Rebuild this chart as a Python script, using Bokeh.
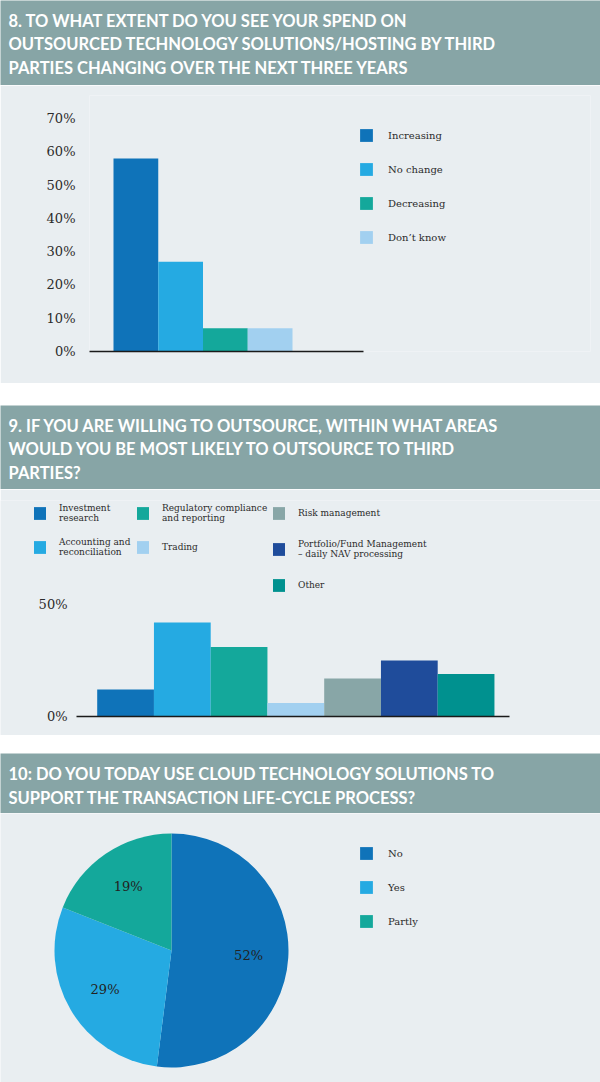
import math
from bokeh.plotting import figure
from bokeh.models import (ColumnDataSource, Label, Legend, LegendItem,
                          FixedTicker, Range1d, Spacer)
from bokeh.layouts import column
from bokeh.embed import file_html
from bokeh.resources import INLINE

# ---------------- data ----------------
q8_title = ["8. TO WHAT EXTENT DO YOU SEE YOUR SPEND ON",
            "OUTSOURCED TECHNOLOGY SOLUTIONS/HOSTING BY THIRD",
            "PARTIES CHANGING OVER THE NEXT THREE YEARS"]
q8_categories = ["Increasing", "No change", "Decreasing", "Don\u2019t know"]
q8_values = [58, 27, 7, 7]
q8_colors = ["#0f73b9", "#25aae2", "#14a89b", "#a2d0f0"]
q8_ticks = [0, 10, 20, 30, 40, 50, 60, 70]
q8_tick_labels = ["0%", "10%", "20%", "30%", "40%", "50%", "60%", "70%"]

q9_title = ["9. IF YOU ARE WILLING TO OUTSOURCE, WITHIN WHAT AREAS",
            "WOULD YOU BE MOST LIKELY TO OUTSOURCE TO THIRD",
            "PARTIES?"]
q9_categories = ["Investment\nresearch",
                 "Accounting and\nreconciliation",
                 "Regulatory compliance\nand reporting",
                 "Trading",
                 "Risk management",
                 "Portfolio/Fund Management\n\u2013 daily NAV processing",
                 "Other"]
q9_values = [12, 42, 31, 6, 17, 25, 19]
q9_colors = ["#0f73b9", "#25aae2", "#14a89b", "#a2d0f0", "#88a6a7", "#1f4c9b", "#00918f"]
q9_ticks = [0, 50]
q9_tick_labels = ["0%", "50%"]

q10_title = ["10: DO YOU TODAY USE CLOUD TECHNOLOGY SOLUTIONS TO",
             "SUPPORT THE TRANSACTION LIFE-CYCLE PROCESS?"]
q10_categories = ["No", "Yes", "Partly"]
q10_values = [52, 29, 19]
q10_colors = ["#0f73b9", "#25aae2", "#14a89b"]

# ---------------- style ----------------
W = 600
HEADER_BG = "#87a5a6"
PANEL_BG = "#e9eef1"
TEXT = "#2b2b2b"
AXIS = "#1a1a1a"
SERIF = "DejaVu Serif"
HEAD_FONT = "Lato"
HEAD_SIZE = 16.5
BASE_FIX = 6.0      # renderer places the alphabetic baseline this much lower


def header(lines, h, first_base):
    p = figure(width=W, height=h, x_range=Range1d(0, W), y_range=Range1d(0, h),
               min_border=0, toolbar_location=None, output_backend="svg",
               x_axis_type=None, y_axis_type=None)
    p.frame_align = False
    p.background_fill_color = HEADER_BG
    p.border_fill_color = HEADER_BG
    p.outline_line_color = None
    p.grid.visible = False
    for i, line in enumerate(lines):
        p.add_layout(Label(x=8, y=h - (first_base - BASE_FIX + 23.6 * i), text=line,
                           text_color="white", text_font=HEAD_FONT,
                           text_font_style="bold", text_font_size=f"{HEAD_SIZE}px",
                           text_baseline="alphabetic"))
    return p


def style_panel(p):
    p.frame_align = False
    p.background_fill_color = PANEL_BG
    p.border_fill_color = PANEL_BG
    p.outline_line_color = None
    p.grid.visible = False


def legend_style(lg, gw, gh, spacing, lh, standoff, size="10px"):
    lg.glyph_width = gw
    lg.glyph_height = gh
    lg.spacing = spacing
    lg.label_height = lh
    lg.label_standoff = standoff
    lg.padding = 0
    lg.margin = 0
    lg.border_line_color = None
    lg.background_fill_alpha = 0
    lg.label_text_font = SERIF
    lg.label_text_font_size = size
    lg.label_text_color = TEXT
    lg.label_text_line_height = 1.2


# ---------------- chart 8 ----------------
u1 = 44.75               # px per bar
f1_left, f1_right = 89, 590
x1_start = -0.5 - (113 - f1_left) / u1
x1_end = x1_start + (f1_right - f1_left) / u1
px_per_pct1 = (351 - 118) / 70.0
h1 = 298
top1, bot1 = 10, 32
y1_end = (h1 - top1 - bot1) / px_per_pct1

p1 = figure(width=W, height=h1, x_range=Range1d(x1_start, x1_end),
            y_range=Range1d(0, y1_end), toolbar_location=None,
            output_backend="svg", min_border_left=f1_left,
            min_border_right=W - f1_right, min_border_top=top1,
            min_border_bottom=bot1)
style_panel(p1)
p1.xaxis.ticker = FixedTicker(ticks=[])
p1.xaxis.major_tick_line_color = None
p1.xaxis.minor_tick_line_color = None
p1.xaxis.major_tick_out = 0
p1.xaxis.major_label_text_font_size = "0px"
p1.xaxis.axis_line_color = AXIS
p1.xaxis.axis_line_width = 1.6
p1.yaxis.axis_line_color = None
p1.yaxis.major_tick_line_color = None
p1.yaxis.minor_tick_line_color = None
p1.yaxis.major_tick_out = 0
p1.yaxis.major_tick_in = 0
p1.yaxis.major_label_text_font = SERIF
p1.yaxis.major_label_text_font_size = "13px"
p1.yaxis.major_label_text_color = TEXT
src1 = ColumnDataSource(dict(x=list(range(len(q8_values))), top=q8_values,
                             color=q8_colors, label=q8_categories))
p1.vbar(x="x", top="top", width=1.0, fill_color="color", line_color=None,
        source=src1, legend_field="label")
p1.yaxis.ticker = FixedTicker(ticks=q8_ticks)
p1.yaxis.major_label_overrides = {t: l for t, l in zip(q8_ticks, q8_tick_labels)}
p1.yaxis.major_label_standoff = 14
p1.xaxis.bounds = (x1_start, x1_start + (363 - f1_left) / u1)
lg1 = p1.legend[0]
legend_style(lg1, 16, 16, 18, 16, 14)
lg1.location = (358 - f1_left, (h1 - bot1) - (127 - 85) - (4 * 16 + 3 * 18))

# ---------------- chart 9 ----------------
u2 = 56.75
x2_start = -0.5 - 96.7 / u2          # frame spans the full width
x2_end = x2_start + W / u2
px_per_pct2 = 2.24
h2 = 246
top2, bot2 = 11, 19                   # zero line sits bot2 px above panel bottom
y2_start = -bot2 / px_per_pct2
y2_end = y2_start + (h2 - top2) / px_per_pct2

p2 = figure(width=W, height=h2, x_range=Range1d(x2_start, x2_end),
            y_range=Range1d(y2_start, y2_end), toolbar_location=None,
            output_backend="svg", min_border_left=0, min_border_right=0,
            min_border_top=top2, min_border_bottom=0,
            x_axis_type=None, y_axis_type=None)
style_panel(p2)
src2 = ColumnDataSource(dict(x=list(range(len(q9_values))), top=q9_values,
                             color=q9_colors, label=q9_categories))
r2 = p2.vbar(x="x", top="top", bottom=0, width=1.0, fill_color="color",
             line_color=None, source=src2)
# baseline (zero line)
p2.segment(x0=[x2_start + 76 / u2], x1=[x2_start + 509 / u2],
           y0=[q9_ticks[0]], y1=[q9_ticks[0]], line_color=AXIS, line_width=1.6)
tick_x = x2_start + 67 / u2
p2.text(x=[tick_x] * len(q9_ticks), y=q9_ticks, text=q9_tick_labels,
        text_align="right", text_baseline="middle", text_font_size="13px",
        text_color=TEXT, text_font={"value": SERIF})

groups = [([0, 1], 32, 10), ([2, 3], 135, 10), ([4, 5, 6], 271, 12)]
for idxs, left_px, sp in groups:
    items = [LegendItem(label=q9_categories[i], renderers=[r2], index=i) for i in idxs]
    lg = Legend(items=items)
    legend_style(lg, 15, 16, sp, 24, 12, size="9px")
    n = len(idxs)
    height = n * 24 + (n - 1) * sp
    lg.location = (left_px, h2 - (505 - 489 - 4) - height)
    p2.add_layout(lg)

# ---------------- chart 10 ----------------
h3 = 269
R = 117.0
cx, cy_top = 171, 137      # pie centre in panel pixels
p3 = figure(width=W, height=h3,
            x_range=Range1d(-cx / R, (W - cx) / R),
            y_range=Range1d(-(h3 - cy_top) / R, cy_top / R),
            toolbar_location=None, output_backend="svg", min_border=0,
            x_axis_type=None, y_axis_type=None)
style_panel(p3)

total = float(sum(q10_values))
starts, ends, lx, ly, ltxt = [], [], [], [], []
cum = 0.0
for v in q10_values:
    a0 = math.pi / 2 - 2 * math.pi * cum / total
    cum += v
    a1 = math.pi / 2 - 2 * math.pi * cum / total
    starts.append(a0)
    ends.append(a1)
    mid = (a0 + a1) / 2
    lx.append(0.66 * math.cos(mid))
    ly.append(0.66 * math.sin(mid))
    ltxt.append(f"{v}%")
src3 = ColumnDataSource(dict(start=starts, end=ends, color=q10_colors,
                             label=q10_categories, lx=lx, ly=ly, txt=ltxt))
p3.wedge(x=0, y=0, radius=1, start_angle="start", end_angle="end",
         direction="clock", fill_color="color", line_color=None,
         source=src3, legend_field="label")
p3.text(x="lx", y="ly", text="txt", source=src3, text_align="center",
        text_baseline="middle", text_font_size="13px", text_color="#222222",
        text_font={"value": SERIF})
lg3 = p3.legend[0]
legend_style(lg3, 16, 16, 18, 16, 14)
lg3.location = (358, h3 - (845 - 813) - (3 * 16 + 2 * 18))

layout = column(
    header(q8_title, 85, 26.0),
    p1,
    Spacer(width=W, height=22),
    header(q9_title, 84, 26.2),
    p2,
    Spacer(width=W, height=18),
    header(q10_title, 60, 26.9),
    p3,
    spacing=0,
)

open("out.html", "w").write(file_html(layout, INLINE))
